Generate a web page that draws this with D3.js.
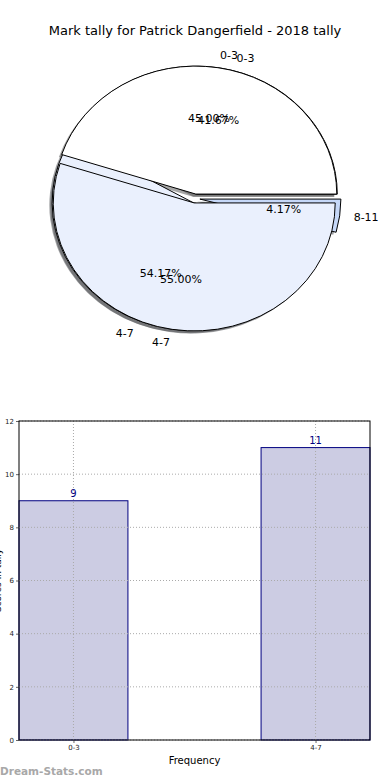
<!DOCTYPE html>
<html>
<head>
<meta charset="utf-8">
<script src="https://cdn.jsdelivr.net/npm/d3@7"></script>
<style>
  body { margin: 0; background: #fff; }
  svg { display: block; font-family: "DejaVu Sans", sans-serif; }
</style>
</head>
<body>
<svg width="390" height="780"></svg>
<script>
// pie data (two overlapping pies, both drawn like the original)
const pieTitle = "Mark tally for Patrick Dangerfield - 2018 tally";
const pieCatsA = ["0-3", "4-7"];
const pieValsA = [45.00, 55.00];
const pieCatsB = ["0-3", "4-7", "8-11"];
const pieValsB = [41.67, 54.17, 4.17];
const pieColors = {"0-3": "#ffffff", "4-7": "#eaf0fd", "8-11": "#c6d8f8"};

// bar data
const barCats = ["0-3", "4-7"];
const barVals = [9, 11];
const yTicks = [0, 2, 4, 6, 8, 10, 12];

const svg = d3.select("svg");

// ---------- pie ----------
const cx = 195, cy = 198.5, rx = 141, ry = 128;
const explode = 0.035;

svg.append("text")
    .attr("x", 195).attr("y", 35)
    .attr("text-anchor", "middle")
    .attr("font-size", "13px")
    .text(pieTitle);

// matplotlib style: start at 3 o'clock, go counterclockwise
const pie = d3.pie().sort(null).startAngle(Math.PI / 2).endAngle(Math.PI / 2 - 2 * Math.PI);
const arc = d3.arc().innerRadius(0).outerRadius(1);

function slices(cats, vals) {
    return pie(vals).map(function(d, i) {
        const mid = (d.startAngle + d.endAngle) / 2;
        return {
            cat: cats[i], val: vals[i], arc: d,
            ux: Math.sin(mid), uy: -Math.cos(mid),
            ox: explode * rx * Math.sin(mid), oy: -explode * ry * Math.cos(mid)
        };
    });
}
const slA = slices(pieCatsA, pieValsA);
const slB = slices(pieCatsB, pieValsB);
const allSl = slB.concat(slA);

const gPie = svg.append("g");

// shadows first (they sit below every wedge)
gPie.selectAll("path.shadow").data(allSl).enter().append("path")
    .attr("class", "shadow")
    .attr("transform", function(d) { return "translate(" + (cx + d.ox - 0.02 * rx) + "," + (cy + d.oy + 0.02 * ry) + ") scale(" + rx + "," + ry + ")"; })
    .attr("d", function(d) { return arc(d.arc); })
    .attr("fill", function(d) {
        const c = d3.rgb(pieColors[d.cat]);
        return d3.rgb(c.r * 0.3, c.g * 0.3, c.b * 0.3);
    })
    .attr("fill-opacity", 0.5);

// wedges: pie B under, pie A over
gPie.selectAll("path.wedge").data(allSl).enter().append("path")
    .attr("class", "wedge")
    .attr("transform", function(d) { return "translate(" + (cx + d.ox) + "," + (cy + d.oy) + ") scale(" + rx + "," + ry + ")"; })
    .attr("d", function(d) { return arc(d.arc); })
    .attr("fill", function(d) { return pieColors[d.cat]; })
    .attr("stroke", "#000")
    .attr("stroke-width", 1)
    .attr("vector-effect", "non-scaling-stroke");

// category labels
gPie.selectAll("text.lab").data(allSl).enter().append("text")
    .attr("class", "lab")
    .attr("x", function(d) { return cx + d.ox + 1.1 * rx * d.ux; })
    .attr("y", function(d) { return cy + d.oy + 1.1 * ry * d.uy; })
    .attr("dy", "0.35em")
    .attr("text-anchor", function(d) { return d.ux > 0 ? "start" : "end"; })
    .attr("font-size", "11px")
    .text(function(d) { return d.cat; });

// percentages
gPie.selectAll("text.pct").data(allSl).enter().append("text")
    .attr("class", "pct")
    .attr("x", function(d) { return cx + d.ox + 0.6 * rx * d.ux; })
    .attr("y", function(d) { return cy + d.oy + 0.6 * ry * d.uy; })
    .attr("dy", "0.35em")
    .attr("text-anchor", "middle")
    .attr("font-size", "11px")
    .text(function(d) { return d.val.toFixed(2) + "%"; });

// ---------- bars ----------
const plotL = 19, plotR = 370, plotT = 421, plotB = 740;
const barW = 0.45;
const x = d3.scaleLinear().domain([-0.225, 1.225]).range([plotL, plotR]);
const y = d3.scaleLinear().domain([0, 12]).range([plotB, plotT]);

const gBar = svg.append("g");

gBar.selectAll("rect.bar").data(barVals).enter().append("rect")
    .attr("class", "bar")
    .attr("x", function(d, i) { return x(i - barW / 2); })
    .attr("y", function(d) { return y(d); })
    .attr("width", function(d, i) { return x(i + barW / 2) - x(i - barW / 2); })
    .attr("height", function(d) { return y(0) - y(d); })
    .attr("fill", "#ccccE3")
    .attr("stroke", "#000080")
    .attr("stroke-width", 1);

// dotted grid
gBar.selectAll("line.hgrid").data(yTicks).enter().append("line")
    .attr("x1", plotL).attr("x2", plotR)
    .attr("y1", function(d) { return y(d); }).attr("y2", function(d) { return y(d); })
    .attr("stroke", "#aaaaaa").attr("stroke-dasharray", "1,2");
gBar.selectAll("line.vgrid").data(barCats).enter().append("line")
    .attr("x1", function(d, i) { return x(i); }).attr("x2", function(d, i) { return x(i); })
    .attr("y1", plotT).attr("y2", plotB)
    .attr("stroke", "#aaaaaa").attr("stroke-dasharray", "1,2");

// value labels
gBar.selectAll("text.val").data(barVals).enter().append("text")
    .attr("x", function(d, i) { return x(i); })
    .attr("y", function(d) { return y(d) - 4; })
    .attr("text-anchor", "middle")
    .attr("font-size", "10px")
    .attr("fill", "#000080")
    .text(function(d) { return d; });

// axes
const yAxis = d3.axisLeft(y).tickValues(yTicks).tickSize(3).tickPadding(2);
const gy = gBar.append("g").attr("transform", "translate(" + plotL + ",0)").call(yAxis);
gy.select(".domain").remove();
gy.selectAll("text").attr("font-size", "7px").attr("font-family", "DejaVu Sans").attr("fill", "#222");
gy.selectAll("line").attr("stroke", "#666");

const xAxis = d3.axisBottom(x).tickValues([0, 1]).tickFormat(function(d) { return barCats[d]; }).tickSize(3).tickPadding(2);
const gx = gBar.append("g").attr("transform", "translate(0," + plotB + ")").call(xAxis);
gx.select(".domain").remove();
gx.selectAll("text").attr("font-size", "7px").attr("font-family", "DejaVu Sans").attr("fill", "#222");
gx.selectAll("line").attr("stroke", "#666");

// frame
gBar.append("rect")
    .attr("x", plotL).attr("y", plotT)
    .attr("width", plotR - plotL).attr("height", plotB - plotT)
    .attr("fill", "none").attr("stroke", "#000").attr("stroke-width", 1);

// axis titles
gBar.append("text")
    .attr("x", (plotL + plotR) / 2).attr("y", 764)
    .attr("text-anchor", "middle")
    .attr("font-size", "10px")
    .text("Frequency");
gBar.append("text")
    .attr("transform", "translate(1," + ((plotT + plotB) / 2) + ") rotate(-90)")
    .attr("text-anchor", "middle")
    .attr("font-size", "9px")
    .text("Scores in tally");

// watermark
svg.append("text")
    .attr("x", 0).attr("y", 775)
    .attr("font-size", "10.5px")
    .attr("font-weight", "bold")
    .attr("fill", "#a8a8a8")
    .text("Dream-Stats.com");
</script>
</body>
</html>
